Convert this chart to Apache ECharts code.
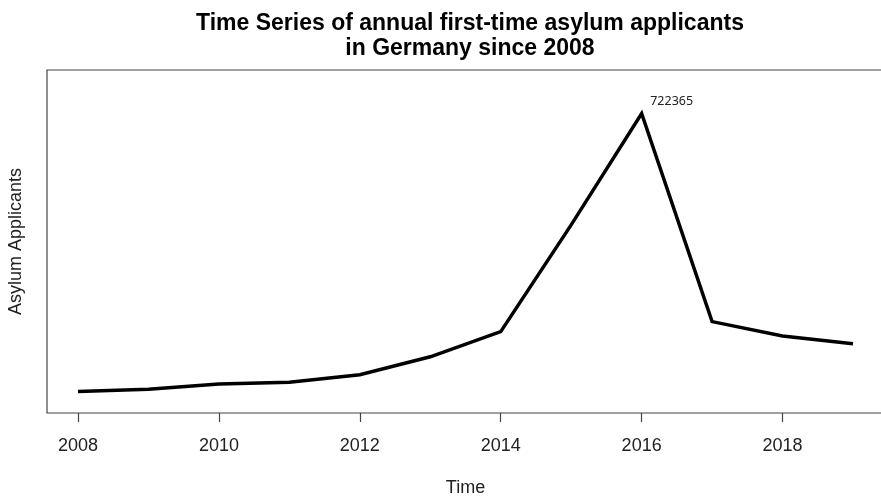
<!DOCTYPE html>
<html>
<head>
<meta charset="utf-8">
<script src="https://cdn.jsdelivr.net/npm/echarts@6/dist/echarts.min.js"></script>
<style>
  html, body { margin: 0; padding: 0; background: #fff; }
  #echart_box { width: 881px; height: 502px; }
</style>
</head>
<body>
<div id="echart_box"></div>
<script>
// first-time asylum applicants in Germany, per year
let years = [2008, 2009, 2010, 2011, 2012, 2013, 2014, 2015, 2016, 2017, 2018, 2019]
let applicants = [22085, 27650, 41330, 45740, 64410, 109580, 172945, 441800, 722365, 198255, 161885, 142450]
let tickYears = [2008, 2010, 2012, 2014, 2016, 2018]
let peakYear = 2016

let lineData = years.map((y, i) => {
    let item = { value: [y, applicants[i]] }
    if (y === peakYear) {
        item.label = {
            show: true,
            formatter: String(applicants[i]),
            position: [30, -12],
            align: 'center',
            verticalAlign: 'middle',
            fontFamily: 'Noto Sans',
            fontSize: 12.5,
            color: '#222'
        }
    }
    return item
})

let myChart = echarts.init(document.getElementById('echart_box'))
let option = {
    animation: false,
    title: {
        text: 'Time Series of annual first-time asylum applicants\nin Germany since 2008',
        left: 465,
        textAlign: 'center',
        top: 6,
        textStyle: {
            fontFamily: 'Liberation Sans',
            fontWeight: 'bold',
            fontSize: 23,
            lineHeight: 25,
            color: '#000'
        }
    },
    grid: {
        show: true,
        left: 47,
        width: 837,
        top: 70,
        bottom: 89,
        outerBoundsMode: 'none',
        containLabel: false,
        borderColor: '#444',
        borderWidth: 1.2
    },
    xAxis: {
        type: 'value',
        min: 2007.56,
        max: 2019.44,
        name: 'Time',
        nameLocation: 'middle',
        nameGap: 66,
        nameTextStyle: { fontFamily: 'Liberation Sans', fontSize: 18, color: '#222' },
        axisLine: { show: false, onZero: false },
        splitLine: { show: false },
        axisTick: {
            show: true,
            customValues: tickYears,
            length: 9,
            lineStyle: { color: '#444', width: 1.2 }
        },
        axisLabel: {
            customValues: tickYears,
            margin: 24,
            formatter: (v) => String(v),
            fontFamily: 'Liberation Sans',
            fontSize: 18,
            color: '#222'
        }
    },
    yAxis: {
        type: 'value',
        min: -32000,
        max: 832000,
        name: 'Asylum Applicants',
        nameLocation: 'middle',
        nameRotate: 90,
        nameGap: 22,
        nameTextStyle: { fontFamily: 'Liberation Sans', fontSize: 18, color: '#222' },
        axisLine: { show: false },
        axisTick: { show: false },
        axisLabel: { show: false },
        splitLine: { show: false }
    },
    series: [
        {
            name: 'Asylum Applicants',
            type: 'line',
            data: lineData,
            symbol: 'circle',
            symbolSize: 0,
            showSymbol: true,
            lineStyle: { color: '#000', width: 3.5, join: 'miter' },
            itemStyle: { color: '#000' }
        }
    ]
}
myChart.setOption(option)
</script>
</body>
</html>
